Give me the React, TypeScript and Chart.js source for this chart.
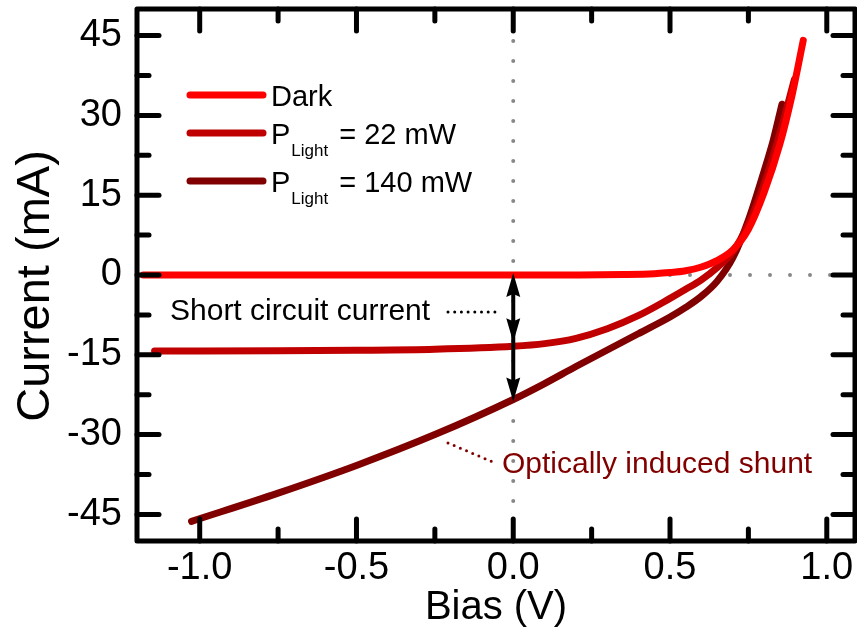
import React, { useEffect, useRef } from 'react';
import { Chart, registerables } from 'chart.js';

Chart.register(...registerables);

// I–V sweeps of the photodiode: bias (V) vs current (mA)
const biasDark = [-1.18, -1.0, -0.5, 0, 0.2, 0.35, 0.45, 0.5, 0.55, 0.6, 0.65, 0.7, 0.75, 0.8, 0.85, 0.89, 0.925];
const currentDark = [0, 0, 0, 0, 0.02, 0.1, 0.25, 0.45, 0.8, 1.5, 2.7, 4.7, 8.6, 15.5, 24.5, 34, 44.1];

const bias22 = [-1.144, -1.0, -0.75, -0.5, -0.25, 0, 0.1, 0.2, 0.3, 0.4, 0.5, 0.55, 0.6, 0.65, 0.7, 0.75, 0.8, 0.85, 0.897];
const current22 = [-14.3, -14.3, -14.25, -14.15, -13.95, -13.4, -12.9, -11.9, -10.1, -7.6, -4.4, -2.7, -0.9, 1.4, 4.4, 9.6, 17.0, 26.5, 36.8];

const bias140 = [-1.026, -0.75, -0.5, -0.25, 0, 0.1, 0.2, 0.3, 0.4, 0.5, 0.55, 0.6, 0.65, 0.7, 0.75, 0.8, 0.83, 0.857];
const current140 = [-46.3, -41.0, -35.8, -30.0, -23.4, -20.4, -17.2, -14.1, -11.0, -7.9, -6.1, -4.0, -1.2, 3.2, 10.3, 19.5, 25.5, 32.1];

const xTickValues = [-1.0, -0.5, 0, 0.5, 1.0];
const xMinorValues = [-0.75, -0.25, 0.25, 0.75];
const yTickValues = [-45, -30, -15, 0, 15, 30, 45];
const yMinorValues = [-37.5, -22.5, -7.5, 7.5, 22.5, 37.5];

const seriesNames = ['Dark', 'P_Light = 22 mW', 'P_Light = 140 mW'];
const seriesColors = ['#FF0000', '#C00000', '#800000'];
const yAxisTitle = 'Current (mA)';

const FONT = "'Liberation Sans', Arial, sans-serif";

const currentAtZero = (bias: number[], cur: number[]) => cur[bias.indexOf(0)];

const frameAndNotes = {
  id: 'frameAndNotes',
  beforeDatasetsDraw(chart: any) {
    const { ctx, chartArea: a, scales } = chart;
    const xs = scales.x, ys = scales.y;
    ctx.save();
    ctx.strokeStyle = '#888888';
    ctx.lineWidth = 4;
    ctx.lineCap = 'round';
    ctx.setLineDash([0, 20]);
    const x0 = xs.getPixelForValue(0);
    ctx.beginPath();
    ctx.moveTo(x0, a.top + 12);
    ctx.lineTo(x0, a.bottom - 4);
    ctx.stroke();
    const y0 = ys.getPixelForValue(0);
    ctx.beginPath();
    ctx.moveTo(a.right - 5, y0);
    ctx.lineTo(a.left + 5, y0);
    ctx.stroke();
    ctx.restore();
  },
  afterDatasetsDraw(chart: any) {
    const { ctx, chartArea: a, scales } = chart;
    const xs = scales.x, ys = scales.y;
    ctx.save();

    // frame
    ctx.strokeStyle = '#000';
    ctx.lineWidth = 5;
    ctx.lineJoin = 'round';
    ctx.strokeRect(a.left, a.top, a.right - a.left, a.bottom - a.top);

    // inward ticks on all four sides
    ctx.lineCap = 'round';
    ctx.lineWidth = 5;
    const seg = (x1: number, y1: number, x2: number, y2: number) => {
      ctx.beginPath(); ctx.moveTo(x1, y1); ctx.lineTo(x2, y2); ctx.stroke();
    };
    const major = 22, minor = 12;
    xTickValues.forEach(v => {
      const p = xs.getPixelForValue(v);
      seg(p, a.bottom, p, a.bottom - major);
      seg(p, a.top, p, a.top + major);
    });
    xMinorValues.forEach(v => {
      const p = xs.getPixelForValue(v);
      seg(p, a.bottom, p, a.bottom - minor);
      seg(p, a.top, p, a.top + minor);
    });
    yTickValues.forEach(v => {
      const p = ys.getPixelForValue(v);
      seg(a.left, p, a.left + major, p);
      seg(a.right, p, a.right - major, p);
    });
    yMinorValues.forEach(v => {
      const p = ys.getPixelForValue(v);
      seg(a.left, p, a.left + minor, p);
      seg(a.right, p, a.right - minor, p);
    });

    // short-circuit current arrows at zero bias
    const x0 = xs.getPixelForValue(0);
    const yTop = ys.getPixelForValue(0) - 2;
    const yMid = ys.getPixelForValue(currentAtZero(bias22, current22)) - 4;
    const yBot = ys.getPixelForValue(currentAtZero(bias140, current140)) + 2;
    ctx.lineCap = 'butt';
    ctx.lineWidth = 4;
    seg(x0, yTop + 10, x0, yBot - 10);
    const head = (tipY: number, dir: number) => {
      ctx.beginPath();
      ctx.moveTo(x0, tipY);
      ctx.lineTo(x0 - 7, tipY - dir * 24);
      ctx.lineTo(x0, tipY - dir * 21);
      ctx.lineTo(x0 + 7, tipY - dir * 24);
      ctx.closePath();
      ctx.fillStyle = '#000';
      ctx.fill();
    };
    head(yTop, -1);
    head(yMid, 1);
    head(yBot, 1);

    // annotation texts with dotted leaders
    ctx.font = `30px ${FONT}`;
    ctx.textBaseline = 'alphabetic';
    ctx.textAlign = 'left';
    ctx.fillStyle = '#000';
    ctx.fillText('Short circuit current', 170, 320);
    ctx.lineCap = 'round';
    ctx.lineWidth = 3;
    ctx.setLineDash([0, 6.7]);
    ctx.strokeStyle = '#000';
    seg(448, 312, 495, 312);

    ctx.fillStyle = '#800000';
    ctx.strokeStyle = '#800000';
    ctx.fillText('Optically induced shunt', 502, 473);
    seg(448, 443, 493, 462);
    ctx.setLineDash([]);

    // legend
    const rows = [95, 133, 181];
    rows.forEach((ry, i) => {
      ctx.strokeStyle = seriesColors[i];
      ctx.lineWidth = 7;
      ctx.lineCap = 'round';
      seg(190, ry, 263, ry);
      ctx.fillStyle = '#000';
      const base = ry + 10.5;
      const name = seriesNames[i];
      if (name.startsWith('P_')) {
        const [lhs, rhs] = name.slice(2).split(' = ');
        ctx.font = `29px ${FONT}`;
        ctx.fillText('P', 271, base);
        const pw = ctx.measureText('P').width;
        ctx.font = `17px ${FONT}`;
        ctx.fillText(lhs, 271 + pw + 1, base + 12);
        const lw = ctx.measureText(lhs).width;
        ctx.font = `29px ${FONT}`;
        ctx.fillText('= ' + rhs, 271 + pw + 1 + lw + 11, base);
      } else {
        ctx.font = `29px ${FONT}`;
        ctx.fillText(name, 271, base);
      }
    });

    // vertical axis title
    ctx.translate(36, 286);
    ctx.rotate(-Math.PI / 2);
    ctx.font = `47px ${FONT}`;
    ctx.textAlign = 'center';
    ctx.textBaseline = 'middle';
    ctx.fillStyle = '#000';
    ctx.fillText(yAxisTitle, 0, 0);
    ctx.restore();
  },
};

export default function App() {
  const ref = useRef<HTMLCanvasElement>(null);
  useEffect(() => {
    if (!ref.current) return;
    const mk = (b: number[], c: number[]) => b.map((x, i) => ({ x, y: c[i] }));
    const chart = new Chart(ref.current, {
      type: 'line',
      data: {
        datasets: [
          { label: seriesNames[0], data: mk(biasDark, currentDark), borderColor: seriesColors[0] },
          { label: seriesNames[1], data: mk(bias22, current22), borderColor: seriesColors[1] },
          { label: seriesNames[2], data: mk(bias140, current140), borderColor: seriesColors[2] },
        ],
      },
      options: {
        animation: false,
        responsive: false,
        maintainAspectRatio: false,
        layout: { padding: { top: 9, right: 2, left: 0, bottom: 0 } },
        plugins: { legend: { display: false }, tooltip: { enabled: false } },
        elements: {
          point: { radius: 0 },
          line: { borderWidth: 7, borderCapStyle: 'round', borderJoinStyle: 'round', cubicInterpolationMode: 'monotone', fill: false },
        },
        scales: {
          x: {
            type: 'linear',
            min: -1.2,
            max: 1.09,
            afterBuildTicks: (s: any) => { s.ticks = xTickValues.map(value => ({ value })); },
            afterFit: (s: any) => { s.height = 90; s.paddingLeft = 0; s.paddingRight = 0; },
            grid: { display: false, drawTicks: false },
            border: { display: false },
            ticks: {
              autoSkip: false,
              maxRotation: 0,
              padding: 5,
              color: '#000',
              font: { family: FONT, size: 38 },
              callback: (v: any) => Number(v).toFixed(1),
            },
            title: { display: true, text: 'Bias (V)', color: '#000', font: { family: FONT, size: 40, lineHeight: 1 }, padding: { top: 0, bottom: 3 } },
          },
          y: {
            type: 'linear',
            min: -50,
            max: 50,
            afterBuildTicks: (s: any) => { s.ticks = yTickValues.map(value => ({ value })); },
            afterFit: (s: any) => { s.width = 137; s.paddingTop = 0; s.paddingBottom = 0; },
            grid: { display: false, drawTicks: false },
            border: { display: false },
            ticks: {
              autoSkip: false,
              padding: 15,
              color: '#000',
              font: { family: FONT, size: 38 },
              callback: (v: any) => String(v),
            },
            title: { display: false },
          },
        },
      } as any,
      plugins: [frameAndNotes],
    });
    return () => chart.destroy();
  }, []);
  return (
    <div style={{ position: 'fixed', left: 0, top: 0, width: 857, height: 631, background: '#fff' }}>
      <canvas ref={ref} width={857} height={631} style={{ display: 'block', width: 857, height: 631 }} />
    </div>
  );
}
